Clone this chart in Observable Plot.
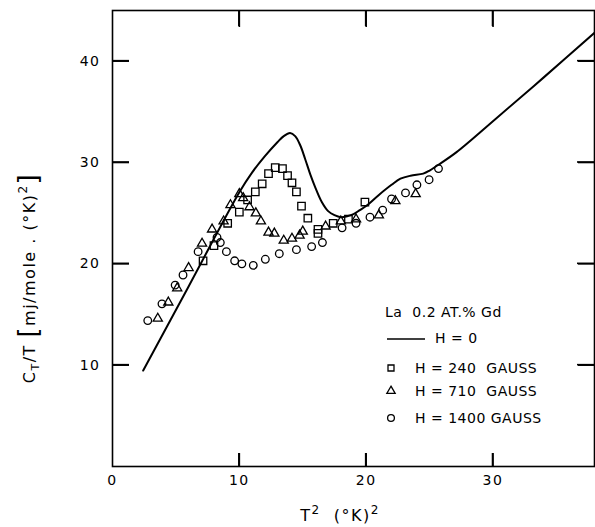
<!DOCTYPE html>
<html><head><meta charset="utf-8">
<script src="https://cdn.jsdelivr.net/npm/d3@7"></script>
<script src="https://cdn.jsdelivr.net/npm/@observablehq/plot@0.6"></script>
</head><body><div id="chart" style="position:absolute;left:0;top:0;width:595px;height:527px;"></div>
<script>
const xTicks = [0, 10, 20, 30];
const yTicks = [10, 20, 30, 40];

// H = 0 curve
const h0X = [2.42, 6, 10.0, 11, 12, 13, 13.5, 14, 14.4, 14.8, 15.2, 15.6, 16.0, 16.5, 17.0, 17.5, 18.0, 18.5, 19.0, 19.5, 20.0, 21.0, 22.0, 22.7, 23.5, 24.5, 25.0, 25.6, 27.1, 30.2, 34, 38];
const h0Y = [9.47, 17.77, 27.06, 29.0, 30.6, 32.0, 32.6, 32.9, 32.6, 31.7, 30.3, 28.8, 27.5, 26.1, 25.2, 24.8, 24.6, 24.7, 24.9, 25.3, 25.7, 26.8, 27.8, 28.4, 28.7, 28.9, 29.2, 29.7, 31.0, 34.3, 38.4, 42.8];

// H = 240 gauss (squares)
const h240X = [7.14, 8.0, 9.08, 10.0, 10.65, 11.26, 11.8, 12.3, 12.83, 13.4, 13.8, 14.15, 14.5, 14.9, 15.4, 16.2, 16.2, 17.4, 18.6, 19.9];
const h240Y = [20.3, 21.8, 24.0, 25.1, 26.3, 27.1, 27.9, 28.9, 29.5, 29.4, 28.7, 28.0, 27.1, 25.7, 24.5, 23.4, 23.0, 24.0, 24.4, 26.1];

// H = 710 gauss (triangles)
const h710X = [3.57, 4.4, 5.1, 6.0, 7.06, 7.85, 8.76, 9.3, 10.0, 10.3, 10.8, 11.3, 11.7, 12.3, 12.76, 13.5, 14.15, 14.75, 15.0, 16.8, 18.0, 19.2, 21.0, 22.3, 23.9];
const h710Y = [14.6, 16.2, 17.6, 19.6, 22.0, 23.4, 24.2, 25.8, 26.9, 26.5, 25.6, 25.0, 24.2, 23.1, 23.0, 22.3, 22.5, 22.8, 23.2, 23.7, 24.2, 24.4, 24.8, 26.2, 26.9];

// H = 1400 gauss (circles)
const h1400X = [2.78, 3.9, 4.94, 5.56, 6.75, 8.24, 8.5, 8.98, 9.63, 10.2, 11.1, 12.05, 13.15, 14.5, 15.7, 16.55, 18.1, 19.2, 20.3, 21.3, 22.0, 23.1, 24.0, 24.96, 25.7];
const h1400Y = [14.4, 16.05, 17.9, 18.9, 21.2, 22.6, 22.1, 21.2, 20.3, 20.0, 19.85, 20.45, 21.0, 21.4, 21.7, 22.1, 23.55, 24.0, 24.6, 25.3, 26.4, 27.0, 27.8, 28.3, 29.4];

const legendTitle = "La  0.2 AT.% Gd";
const legendLabels = ["H = 0", "H = 240  GAUSS", "H = 710  GAUSS", "H = 1400 GAUSS"];

const zip = (xs, ys) => xs.map((x, i) => ({x, y: ys[i]}));
const h0 = zip(h0X, h0Y), sq = zip(h240X, h240Y), tri = zip(h710X, h710Y), circ = zip(h1400X, h1400Y);

const W = 595, H = 527, mL = 112, mR = 1, mT = 10, mB = 61;
const xDomain = [0, 38], yDomain = [0, 45];
const pxX = (xDomain[1] - xDomain[0]) / (W - mL - mR);
const pxY = (yDomain[1] - yDomain[0]) / (H - mT - mB);
const noText = () => "";

const ink = "black";
const plot = Plot.plot({
  width: W, height: H,
  marginLeft: mL, marginRight: mR, marginTop: mT, marginBottom: mB,
  x: {domain: xDomain},
  y: {domain: yDomain},
  style: {fontFamily: "DejaVu Sans", fontSize: "14px", letterSpacing: "1.5px"},
  marks: [
    Plot.frame({stroke: ink, strokeWidth: 1.6}),
    // tick labels
    Plot.axisX(xTicks, {anchor: "bottom", tickSize: 0, tickPadding: 9, label: null}),
    Plot.axisY(yTicks, {anchor: "left", tickSize: 0, tickPadding: 12, label: null}),
    // inward tick marks (outward axis ticks shifted inside the frame)
    Plot.axisX(xTicks.slice(1), {anchor: "bottom", tickSize: 13, dy: -13, tickFormat: noText, label: null, stroke: ink, strokeWidth: 1.6}),
    Plot.axisX(xTicks.slice(1), {anchor: "top", tickSize: 16, dy: 16, tickFormat: noText, label: null, stroke: ink, strokeWidth: 1.6}),
    Plot.axisY(yTicks, {anchor: "left", tickSize: 17, dx: 17, tickFormat: noText, label: null, stroke: ink, strokeWidth: 1.6}),
    Plot.axisY(yTicks, {anchor: "right", tickSize: 17, dx: -17, tickFormat: noText, label: null, stroke: ink, strokeWidth: 1.6}),
    // the same ticks as thin filled bars, in case stroked ticks are not shown
    Plot.rect(xTicks.slice(1), {x1: d => d - 0.8 * pxX, x2: d => d + 0.8 * pxX, y1: yDomain[0], y2: yDomain[0] + 13 * pxY, fill: ink}),
    Plot.rect(xTicks.slice(1), {x1: d => d - 0.8 * pxX, x2: d => d + 0.8 * pxX, y1: yDomain[1], y2: yDomain[1] - 16 * pxY, fill: ink}),
    Plot.rect(yTicks, {y1: d => d - 0.8 * pxY, y2: d => d + 0.8 * pxY, x1: xDomain[0], x2: xDomain[0] + 17 * pxX, fill: ink}),
    Plot.rect(yTicks, {y1: d => d - 0.8 * pxY, y2: d => d + 0.8 * pxY, x1: xDomain[1], x2: xDomain[1] - 17 * pxX, fill: ink}),
    Plot.line(h0, {x: "x", y: "y", curve: "catmull-rom", stroke: ink, strokeWidth: 2}),
    Plot.dot(sq, {x: "x", y: "y", symbol: "square", r: 4.2, stroke: ink, strokeWidth: 1.3, fill: "none"}),
    Plot.dot(tri, {x: "x", y: "y", symbol: "triangle", r: 3.4, stroke: ink, strokeWidth: 1.3, fill: "none"}),
    Plot.dot(circ, {x: "x", y: "y", symbol: "circle", r: 3.8, stroke: ink, strokeWidth: 1.3, fill: "none"})
  ]
});
document.getElementById("chart").appendChild(plot);

const svg = d3.select(plot);

// axis titles
const xl = svg.append("text").attr("x", 340).attr("y", 521).attr("text-anchor", "middle")
  .attr("font-size", 16).attr("fill", ink);
xl.append("tspan").text("T");
xl.append("tspan").attr("dy", -7).attr("font-size", 12).text("2");
xl.append("tspan").attr("dy", 7).text("  (°K)");
xl.append("tspan").attr("dy", -7).attr("font-size", 12).text("2");

const yl = svg.append("text").attr("transform", "translate(35,278) rotate(-90)").attr("text-anchor", "middle")
  .attr("font-size", 16).attr("fill", ink);
yl.append("tspan").text("C");
yl.append("tspan").attr("dy", 4).attr("font-size", 11).text("T");
yl.append("tspan").attr("dy", -4).text("/T ");
yl.append("tspan").attr("font-size", 26).attr("dy", 2).text("[");
yl.append("tspan").attr("dy", -2).text("mj/mole . (°K)");
yl.append("tspan").attr("dy", -8).attr("font-size", 12).text("2");
yl.append("tspan").attr("dy", 10).attr("font-size", 26).text("]");

// legend
const lg = svg.append("g").attr("fill", ink).attr("font-size", 14).attr("text-anchor", "start")
  .attr("letter-spacing", "0.5px");
lg.append("text").attr("x", 385).attr("y", 317).text(legendTitle);
lg.append("line").attr("x1", 387).attr("x2", 425).attr("y1", 339).attr("y2", 339).attr("stroke", ink).attr("stroke-width", 1.6);
lg.append("text").attr("x", 435).attr("y", 343).text(legendLabels[0]);
const sym = [d3.symbolSquare, d3.symbolTriangle, d3.symbolCircle];
const ys = [368, 391, 418];
const sizes = [36, 30, 36];
ys.forEach((y, i) => {
  lg.append("path").attr("d", d3.symbol(sym[i], sizes[i])()).attr("transform", `translate(391,${y})`)
    .attr("fill", "none").attr("stroke", ink).attr("stroke-width", 1.3);
  lg.append("text").attr("x", 415).attr("y", y + 5).text(legendLabels[i + 1]);
});
</script></body></html>
